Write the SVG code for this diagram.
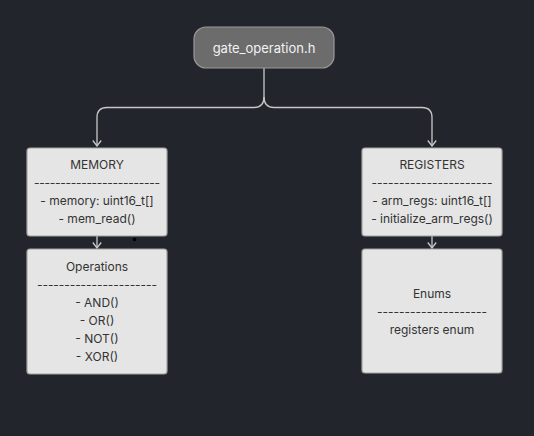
<svg xmlns="http://www.w3.org/2000/svg" width="534" height="436" viewBox="0 0 534 436">
<defs>
<style>
.box{fill:#e5e5e5;stroke:#a3a3a3;stroke-width:1.2}
.t{font-family:Inter,"Noto Sans","Liberation Sans",sans-serif;font-size:12px;fill:#333;text-anchor:middle}
.c{fill:none;stroke:#c8c8c8;stroke-width:1.3}
</style>
<marker id="ah" viewBox="0 0 10 10" refX="9" refY="5" markerWidth="10" markerHeight="10" markerUnits="userSpaceOnUse" orient="auto">
<path d="M3.5,0.8 L9,5 L3.5,9.2" fill="none" stroke="#c8c8c8" stroke-width="1.3"/>
</marker>
</defs>
<rect width="534" height="436" fill="#22252b"/>
<g id="connectors">
<path class="c" d="M264,68 V97 Q264,107.5 254,107.5 H107 Q97,107.5 97,117.5 V146" marker-end="url(#ah)"/>
<path class="c" d="M264,97 Q264,107.5 274,107.5 H422 Q432,107.5 432,117.5 V146" marker-end="url(#ah)"/>
<path class="c" d="M97,236 V248" marker-end="url(#ah)"/>
<path class="c" d="M432,236 V248" marker-end="url(#ah)"/>
</g>
<g id="gate_operation">
<rect x="194" y="27" width="140" height="41" rx="12" fill="#6c6c6c" stroke="#9a9a9a" stroke-width="1.2"/>
<text x="264" y="52.5" class="t" style="fill:#f2f2f2;font-size:13px">gate_operation.h</text>
</g>
<g id="memory">
<rect class="box" x="27" y="148" width="140" height="88" rx="3"/>
<text class="t" x="97" y="169">MEMORY</text>
<text class="t" x="97" y="187" textLength="126" lengthAdjust="spacing">------------------------</text>
<text class="t" x="97" y="205">- memory: uint16_t[]</text>
<text class="t" x="97" y="223">- mem_read()</text>
</g>
<g id="operations">
<rect class="box" x="27" y="249" width="140" height="125" rx="3"/>
<text class="t" x="97" y="271">Operations</text>
<text class="t" x="97" y="289" textLength="120" lengthAdjust="spacing">----------------------</text>
<text class="t" x="97" y="307">- AND()</text>
<text class="t" x="97" y="325">- OR()</text>
<text class="t" x="97" y="343">- NOT()</text>
<text class="t" x="97" y="361">- XOR()</text>
</g>
<g id="registers">
<rect class="box" x="362" y="148" width="140" height="88" rx="3"/>
<text class="t" x="432" y="169">REGISTERS</text>
<text class="t" x="432" y="187" textLength="121" lengthAdjust="spacing">----------------------</text>
<text class="t" x="432" y="205">- arm_regs: uint16_t[]</text>
<text class="t" x="432" y="223">- initialize_arm_regs()</text>
</g>
<g id="enums">
<rect class="box" x="362" y="249" width="140" height="124" rx="3"/>
<text class="t" x="432" y="298">Enums</text>
<text class="t" x="432" y="316" textLength="110" lengthAdjust="spacing">--------------------</text>
<text class="t" x="432" y="334">registers enum</text>
</g>
<circle cx="134.5" cy="239.5" r="1.8" fill="#000"/>
</svg>
